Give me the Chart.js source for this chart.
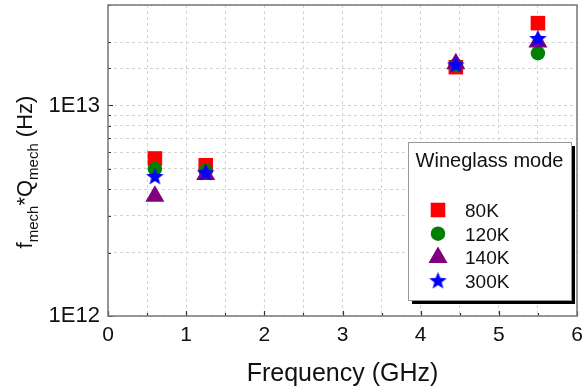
<!DOCTYPE html>
<html>
<head>
<meta charset="utf-8">
<script src="https://cdn.jsdelivr.net/npm/chart.js@4/dist/chart.umd.min.js"></script>
<style>
  body { margin: 0; background: #fff; }
  canvas { display: block; }
</style>
</head>
<body>
<canvas id="chart" width="582" height="389"></canvas>
<script>
// data
var freqs = [0.6, 1.25, 4.45, 5.5];              // GHz
var q80K  = [5.6e12, 5.2e12, 1.52e13, 2.46e13];
var q120K = [5.0e12, 4.9e12, 1.55e13, 1.77e13];
var q140K = [3.7e12, 4.7e12, 1.58e13, 2.0e13];
var q300K = [4.6e12, 4.8e12, 1.56e13, 2.08e13];
var seriesNames = ['80K', '120K', '140K', '300K'];
var yLabelled = [1e12, 1e13];
var legendTitle = 'Wineglass mode';

var FONT = '"Liberation Sans", Arial, sans-serif';

// filled five point star, chart.js only has an asterisk one
function makeStar(color) {
    var c = document.createElement('canvas');
    c.width = 19; c.height = 19;
    var g = c.getContext('2d');
    g.beginPath();
    for (var i = 0; i < 10; i++) {
        var r = (i % 2 == 0) ? 9.2 : 3.9;
        var a = -Math.PI / 2 + i * Math.PI / 5;
        var px = 9.5 + r * Math.cos(a), py = 10 + r * Math.sin(a);
        if (i == 0) g.moveTo(px, py); else g.lineTo(px, py);
    }
    g.closePath();
    g.fillStyle = color;
    g.fill();
    return c;
}
var starImg = makeStar('#0000ff');

function pts(vals) {
    return freqs.map(function (f, i) { return { x: f, y: vals[i] }; });
}

var styles = [
    { color: '#ff0000', pointStyle: 'rect', radius: 10.3 },
    { color: '#008000', pointStyle: 'circle', radius: 7.2 },
    { color: '#800080', pointStyle: 'triangle', radius: 11 },
    { color: '#0000ff', pointStyle: starImg, radius: 9 }
];
var allVals = [q80K, q120K, q140K, q300K];

var datasets = seriesNames.map(function (name, i) {
    return {
        label: name,
        data: pts(allVals[i]),
        backgroundColor: styles[i].color,
        borderColor: styles[i].color,
        borderWidth: 0,
        pointStyle: styles[i].pointStyle,
        pointRadius: styles[i].radius,
        pointHoverRadius: styles[i].radius,
        order: 4 - i
    };
});

function drawMarker(ctx, i, x, y) {
    ctx.save();
    ctx.fillStyle = styles[i].color;
    ctx.strokeStyle = styles[i].color;
    if (i == 3) {
        ctx.drawImage(starImg, x - 9.5, y - 10);
    } else {
        Chart.helpers.drawPoint(ctx, { pointStyle: styles[i].pointStyle, radius: styles[i].radius, rotation: 0, borderWidth: 0 }, x, y);
    }
    ctx.restore();
}

var decorations = {
    id: 'decorations',
    afterDraw: function (chart) {
        var ctx = chart.ctx;
        var a = chart.chartArea;
        var xs = chart.scales.x, ys = chart.scales.y;

        // inward tick marks
        ctx.save();
        ctx.strokeStyle = '#333';
        ctx.lineWidth = 1.2;
        ctx.beginPath();
        ys.ticks.forEach(function (t) {
            var py = Math.round(ys.getPixelForValue(t.value)) + 0.5;
            var major = yLabelled.indexOf(t.value) >= 0;
            ctx.moveTo(a.left, py);
            ctx.lineTo(a.left + (major ? 5 : 3), py);
        });
        xs.ticks.forEach(function (t) {
            var px = Math.round(xs.getPixelForValue(t.value)) + 0.5;
            var major = Math.abs(t.value - Math.round(t.value)) < 1e-6;
            ctx.moveTo(px, a.bottom);
            ctx.lineTo(px, a.bottom - (major ? 5 : 3));
        });
        ctx.stroke();

        // frame
        ctx.strokeStyle = '#777';
        ctx.lineWidth = 1.5;
        ctx.strokeRect(a.left, a.top, a.right - a.left, a.bottom - a.top);
        ctx.restore();

        // x title
        ctx.save();
        ctx.fillStyle = '#111';
        ctx.font = '25px ' + FONT;
        ctx.textAlign = 'center';
        ctx.textBaseline = 'alphabetic';
        ctx.fillText('Frequency (GHz)', (a.left + a.right) / 2, 381);
        ctx.restore();

        // y title with subscripts
        ctx.save();
        ctx.translate(32, 172);
        ctx.rotate(-Math.PI / 2);
        ctx.fillStyle = '#111';
        ctx.textBaseline = 'alphabetic';
        var parts = [
            ['f', 22, 0], ['mech', 15, 6], ['*Q', 22, 0], ['mech', 15, 6], [' (Hz)', 22, 0]
        ];
        var total = 0;
        parts.forEach(function (p) { ctx.font = p[1] + 'px ' + FONT; total += ctx.measureText(p[0]).width; });
        var cx = -total / 2;
        parts.forEach(function (p) {
            ctx.font = p[1] + 'px ' + FONT;
            ctx.fillText(p[0], cx, p[2]);
            cx += ctx.measureText(p[0]).width;
        });
        ctx.restore();

        // legend box
        var bx = 408, by = 142, bw = 163, bh = 158;
        ctx.save();
        ctx.fillStyle = '#000';
        ctx.fillRect(bx + 4, by + 4, bw, bh);
        ctx.fillStyle = '#fff';
        ctx.fillRect(bx, by, bw, bh);
        ctx.strokeStyle = '#999';
        ctx.lineWidth = 1;
        ctx.strokeRect(bx + 0.5, by + 0.5, bw, bh);
        ctx.fillStyle = '#111';
        ctx.font = '20px ' + FONT;
        ctx.textAlign = 'center';
        ctx.fillText(legendTitle, bx + bw / 2, 167);
        ctx.textAlign = 'left';
        ctx.font = '19px ' + FONT;
        seriesNames.forEach(function (name, i) {
            var ly = 210 + i * 23.7;
            drawMarker(ctx, i, 438, ly);
            ctx.fillStyle = '#111';
            ctx.fillText(name, 465, ly + 7);
        });
        ctx.restore();
    }
};

new Chart(document.getElementById('chart'), {
    type: 'scatter',
    data: { datasets: datasets },
    options: {
        responsive: false,
        animation: false,
        devicePixelRatio: 1,
        layout: { autoPadding: false, padding: { top: 5, right: 5, left: 0, bottom: 0 } },
        plugins: {
            legend: { display: false },
            tooltip: { enabled: false }
        },
        scales: {
            x: {
                type: 'linear',
                min: 0,
                max: 6,
                afterFit: function (s) { s.height = 73; s.paddingLeft = 0; s.paddingRight = 0; },
                border: { display: false, dash: [3, 3] },
                grid: { color: '#d4d4d4', lineWidth: 1, drawTicks: false },
                ticks: {
                    stepSize: 0.5,
                    autoSkip: false,
                    maxRotation: 0,
                    padding: 7,
                    color: '#111',
                    font: { family: FONT, size: 21 },
                    callback: function (v) {
                        return Math.abs(v - Math.round(v)) < 1e-6 ? String(Math.round(v)) : '';
                    }
                }
            },
            y: {
                type: 'logarithmic',
                min: 1e12,
                max: 3e13,
                afterFit: function (s) { s.width = 108; s.paddingTop = 0; s.paddingBottom = 0; },
                border: { display: false, dash: [3, 3] },
                grid: { color: '#d4d4d4', lineWidth: 1, drawTicks: false },
                ticks: {
                    autoSkip: false,
                    padding: 8,
                    color: '#111',
                    font: { family: FONT, size: 22 },
                    callback: function (v) {
                        if (yLabelled.indexOf(v) >= 0) return '1E' + Math.round(Math.log10(v));
                        return '';
                    }
                }
            }
        }
    },
    plugins: [decorations]
});
</script>
</body>
</html>
